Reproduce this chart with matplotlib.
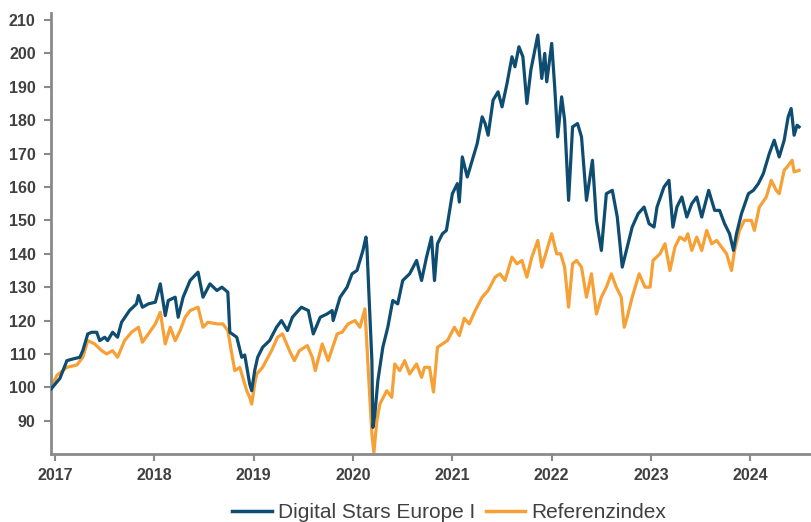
import matplotlib
matplotlib.use("Agg")
import matplotlib.pyplot as plt

plt.rcParams["font.family"] = ["Liberation Sans", "DejaVu Sans"]

# values (decimal year, index level)
fund_years = [
    2016.96, 2017.05, 2017.12, 2017.18, 2017.25, 2017.28, 2017.33, 2017.37, 2017.42, 2017.45,
    2017.50, 2017.53, 2017.58, 2017.63, 2017.67, 2017.75, 2017.82, 2017.84, 2017.88, 2017.94,
    2018.01, 2018.06, 2018.11, 2018.14, 2018.21, 2018.24, 2018.29, 2018.36, 2018.44, 2018.49,
    2018.56, 2018.63, 2018.68, 2018.74, 2018.76, 2018.83, 2018.88, 2018.91, 2018.96, 2018.98,
    2019.01, 2019.04, 2019.09, 2019.16, 2019.23, 2019.28, 2019.34, 2019.39, 2019.48, 2019.55,
    2019.60, 2019.67, 2019.74, 2019.79, 2019.80, 2019.87, 2019.94, 2019.99, 2020.04, 2020.07,
    2020.10, 2020.13, 2020.14, 2020.16, 2020.19, 2020.20, 2020.22, 2020.25, 2020.30, 2020.35,
    2020.40, 2020.45, 2020.50, 2020.57, 2020.64, 2020.69, 2020.74, 2020.79, 2020.82, 2020.85,
    2020.90, 2020.94, 2021.00, 2021.05, 2021.07, 2021.10, 2021.15, 2021.20, 2021.25, 2021.30,
    2021.33, 2021.36, 2021.41, 2021.46, 2021.50, 2021.55, 2021.60, 2021.63, 2021.67, 2021.71,
    2021.75, 2021.79, 2021.83, 2021.86, 2021.90, 2021.93, 2021.95, 2022.00, 2022.03, 2022.06,
    2022.10, 2022.13, 2022.17, 2022.21, 2022.26, 2022.30, 2022.35, 2022.41, 2022.45, 2022.50,
    2022.55, 2022.61, 2022.66, 2022.71, 2022.76, 2022.81, 2022.87, 2022.93, 2022.98, 2023.03,
    2023.06, 2023.13, 2023.18, 2023.22, 2023.26, 2023.31, 2023.36, 2023.41, 2023.46, 2023.51,
    2023.58, 2023.64, 2023.69, 2023.74, 2023.79, 2023.83, 2023.86, 2023.91, 2023.98, 2024.03,
    2024.08, 2024.13, 2024.19, 2024.24, 2024.29, 2024.34, 2024.38, 2024.41, 2024.42, 2024.44,
    2024.47, 2024.49,
]
fund_values = [
    99.5, 102.7, 108, 108.5, 109, 111, 116, 116.5, 116.5, 114,
    115, 114, 116.5, 115, 119.5, 123, 125, 127.5, 124, 125,
    125.5, 131, 121.5, 126, 127, 121, 127, 132, 134.5, 127,
    131, 129, 130, 128.5, 116.5, 115, 109, 109.7, 101, 99,
    105, 109, 112, 114, 118, 120, 117, 121, 124, 123,
    116, 121, 122, 123, 120, 127, 130, 134, 135, 138,
    141, 145, 142, 128, 108, 88, 92, 102, 112, 118,
    126, 125, 132, 134, 138, 132, 139, 145, 132, 143,
    146, 147, 158, 161, 155.5, 169, 163, 168, 173, 181,
    179, 175.5, 186, 188.5, 184, 191, 199, 196, 202, 199,
    185, 195, 201, 205.5, 192.5, 200, 191.5, 203, 190, 175,
    187, 180, 156, 178, 179, 175, 156, 168, 150, 141,
    158, 159, 151, 136, 142, 148, 152, 154, 149, 148,
    154, 160, 162, 148, 154, 157, 151, 155, 157, 151,
    159, 153, 153, 149, 146, 141, 146, 152, 158, 159,
    161, 164, 170, 174, 169, 174, 181, 183.5, 181, 175.5,
    178.5, 178,
]

index_years = [
    2016.96, 2017.02, 2017.12, 2017.22, 2017.28, 2017.33, 2017.40, 2017.47, 2017.52, 2017.58,
    2017.63, 2017.70, 2017.77, 2017.84, 2017.88, 2017.94, 2018.01, 2018.06, 2018.11, 2018.16,
    2018.21, 2018.26, 2018.31, 2018.36, 2018.44, 2018.49, 2018.54, 2018.63, 2018.69, 2018.74,
    2018.78, 2018.81, 2018.86, 2018.91, 2018.93, 2018.96, 2018.98, 2019.01, 2019.03, 2019.09,
    2019.18, 2019.24, 2019.29, 2019.36, 2019.41, 2019.46, 2019.54, 2019.59, 2019.62, 2019.69,
    2019.75, 2019.84, 2019.89, 2019.95, 2020.02, 2020.07, 2020.12, 2020.15, 2020.19, 2020.21,
    2020.24, 2020.27, 2020.34, 2020.39, 2020.42, 2020.47, 2020.52, 2020.57, 2020.64, 2020.69,
    2020.72, 2020.77, 2020.81, 2020.85, 2020.90, 2020.95, 2021.02, 2021.07, 2021.12, 2021.17,
    2021.23, 2021.30, 2021.36, 2021.43, 2021.48, 2021.53, 2021.60, 2021.65, 2021.70, 2021.75,
    2021.80, 2021.86, 2021.90, 2021.95, 2022.00, 2022.05, 2022.09, 2022.13, 2022.17, 2022.21,
    2022.25, 2022.30, 2022.35, 2022.40, 2022.45, 2022.50, 2022.55, 2022.60, 2022.65, 2022.70,
    2022.73, 2022.76, 2022.81, 2022.88, 2022.94, 2022.99, 2023.02, 2023.09, 2023.14, 2023.19,
    2023.24, 2023.29, 2023.34, 2023.37, 2023.41, 2023.46, 2023.51, 2023.56, 2023.61, 2023.66,
    2023.71, 2023.76, 2023.81, 2023.84, 2023.89, 2023.94, 2024.01, 2024.04, 2024.09, 2024.16,
    2024.21, 2024.26, 2024.29, 2024.34, 2024.37, 2024.42, 2024.44, 2024.49,
]
index_values = [
    100, 103.6, 106, 106.7, 109, 114, 113, 111, 110, 111,
    109, 114, 116.5, 118, 113.5, 116, 119, 122.5, 113, 118,
    114, 117, 121, 123, 124, 118, 119.5, 119, 119, 117,
    110, 105, 106, 101, 99, 97, 95, 101, 104, 106,
    111, 115, 116, 111, 108, 111, 112.5, 109, 105, 113,
    108, 116, 116.5, 119, 120, 118, 123.5, 107, 86, 80.5,
    90, 95, 99, 97, 107, 105, 108, 104, 107, 103,
    106, 106, 98.6, 112, 113, 114, 118, 115.5, 120.7, 119,
    123, 127, 129, 133, 134, 132, 139, 137, 138, 133,
    139, 144, 136, 141, 146, 140, 140, 136, 124, 137,
    138, 136, 127, 134, 122, 127, 130, 134, 130, 127,
    118, 121, 127, 134, 130, 130, 138, 140, 143, 135,
    142, 145, 144, 146, 141, 145, 141, 147, 143, 144,
    142, 140, 135, 141, 147, 150, 150, 147, 154, 157,
    162, 159, 158, 165, 166, 168, 164.5, 165,
]

year_ticks = [2017, 2018, 2019, 2020, 2021, 2022, 2023, 2024]
value_ticks = [90, 100, 110, 120, 130, 140, 150, 160, 170, 180, 190, 200, 210]

FUND_COLOR = "#0e4d71"
INDEX_COLOR = "#f6a035"
AXIS_COLOR = "#8a8a8a"
TEXT_COLOR = "#404040"


def main():
    fig = plt.figure(figsize=(8.11, 5.22), dpi=100)
    ax = fig.add_axes([0.0629, 0.130, 0.9371, 0.8457])

    ax.plot(index_years, index_values, color=INDEX_COLOR, lw=2.3, label="Referenzindex", zorder=2)
    ax.plot(fund_years, fund_values, color=FUND_COLOR, lw=2.3, label="Digital Stars Europe I", zorder=3)

    ax.set_xlim(2016.96, 2024.61)
    ax.set_ylim(80, 212.2)
    ax.set_xticks(year_ticks)
    ax.set_xticklabels([str(y) for y in year_ticks])
    ax.set_yticks(value_ticks)

    for side in ["top", "right"]:
        ax.spines[side].set_visible(False)
    for side in ["left", "bottom"]:
        ax.spines[side].set_color(AXIS_COLOR)
        ax.spines[side].set_linewidth(2)

    ax.tick_params(axis="both", colors=AXIS_COLOR, width=1.5, length=5, direction="out")
    ax.tick_params(axis="y", pad=6)
    ax.tick_params(axis="x", pad=5)
    for lbl in ax.get_xticklabels() + ax.get_yticklabels():
        lbl.set_color(TEXT_COLOR)
        lbl.set_fontweight("bold")
        lbl.set_fontsize(11.5)

    handles, labels = ax.get_legend_handles_labels()
    leg = fig.legend(handles[::-1], labels[::-1], loc="center", bbox_to_anchor=(0.554, 0.018),
                     ncol=2, frameon=False, fontsize=15, handlelength=1.9,
                     handletextpad=0.3, columnspacing=0.5)
    for t in leg.get_texts():
        t.set_color(TEXT_COLOR)
    for h in leg.get_lines():
        h.set_linewidth(2.5)

    fig.savefig("out.png", dpi=100)


if __name__ == "__main__":
    main()
